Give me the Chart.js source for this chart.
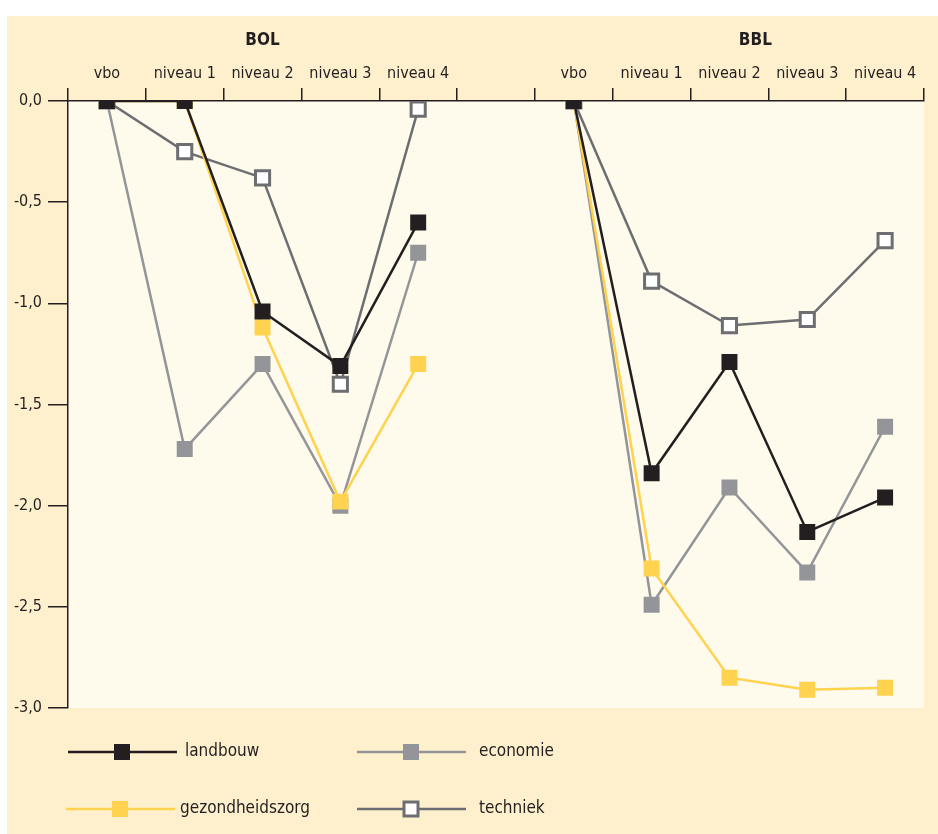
<!DOCTYPE html>
<html>
<head>
<meta charset="utf-8">
<script src="https://cdn.jsdelivr.net/npm/chart.js@4"></script>
<style>
  html, body { margin: 0; padding: 0; background: #fff; }
  #wrap { width: 938px; height: 834px; }
</style>
</head>
<body>
<div id="wrap"><canvas id="chart" width="938" height="834"></canvas></div>
<script>
// categories: BOL (0-4), gap (5), BBL (6-10)
const categories = ['vbo', 'niveau 1', 'niveau 2', 'niveau 3', 'niveau 4', '',
                    'vbo', 'niveau 1', 'niveau 2', 'niveau 3', 'niveau 4'];
const groupTitles = ['BOL', 'BBL'];
const yTicks = [0, -0.5, -1, -1.5, -2, -2.5, -3];

const landbouw        = [0, 0, -1.04, -1.31, -0.60, null, 0, -1.84, -1.29, -2.13, -1.96];
const economie        = [0, -1.72, -1.30, -2.00, -0.75, null, 0, -2.49, -1.91, -2.33, -1.61];
const gezondheidszorg = [0, 0, -1.12, -1.98, -1.30, null, 0, -2.31, -2.85, -2.91, -2.90];
const techniek        = [0, -0.25, -0.38, -1.40, -0.04, null, 0, -0.89, -1.11, -1.08, -0.69];

const FONT = "'Liberation Sans Narrow', 'DejaVu Sans Condensed', sans-serif";
const INK = '#231f20';

const series = [
    { label: 'landbouw', data: landbouw, color: INK, fill: INK, order: 1 },
    { label: 'economie', data: economie, color: '#939598', fill: '#939598', order: 4 },
    { label: 'gezondheidszorg', data: gezondheidszorg, color: '#ffd24f', fill: '#ffd24f', order: 2 },
    { label: 'techniek', data: techniek, color: '#6d6e71', fill: '#ffffff', order: 3 }
];

// background panels, group titles and legend
const decor = {
    id: 'decor',
    beforeDraw(chart) {
        const { ctx, chartArea: a } = chart;
        ctx.save();
        ctx.fillStyle = '#fef0cd';
        ctx.fillRect(7, 16, 931, 818);
        ctx.fillStyle = '#fefaec';
        ctx.fillRect(a.left, a.top, a.right - a.left, a.bottom - a.top);
        ctx.restore();
    },
    afterDraw(chart) {
        const { ctx } = chart;
        const x = chart.scales.x;
        const band = x.getPixelForValue(1) - x.getPixelForValue(0);
        ctx.save();
        ctx.fillStyle = INK;
        ctx.font = 'bold 17px ' + FONT;
        ctx.textAlign = 'center';
        ctx.textBaseline = 'middle';
        ctx.fillText(groupTitles[0], (x.getPixelForValue(0) + x.getPixelForValue(4)) / 2, 41);
        ctx.fillText(groupTitles[1], x.getPixelForValue(8) + band / 3, 41);

        // legend
        const pos = [[68, 752], [357, 752], [66, 809], [357, 809]];
        series.forEach((s, k) => {
            const [lx, ly] = pos[k];
            ctx.strokeStyle = s.color;
            ctx.lineWidth = 2.5;
            ctx.beginPath();
            ctx.moveTo(lx, ly);
            ctx.lineTo(lx + 109, ly);
            ctx.stroke();
            const mx = lx + 54;
            if (s.label === 'techniek') {
                ctx.fillStyle = '#fff';
                ctx.fillRect(mx - 7, ly - 7, 14, 14);
                ctx.lineWidth = 3;
                ctx.strokeRect(mx - 7, ly - 7, 14, 14);
            } else {
                ctx.fillStyle = s.fill;
                ctx.fillRect(mx - 8, ly - 8, 16, 16);
            }
            ctx.fillStyle = INK;
            ctx.font = '17px ' + FONT;
            ctx.textAlign = 'left';
            ctx.fillText(s.label, lx + (k === 2 ? 114 : (k === 1 || k === 3 ? 122 : 117)), ly);
        });
        ctx.restore();
    }
};

const ctx = document.getElementById('chart').getContext('2d');
new Chart(ctx, {
    type: 'line',
    data: {
        labels: categories,
        datasets: series.map(s => ({
            label: s.label,
            data: s.data,
            order: s.order,
            borderColor: s.color,
            borderWidth: 2.5,
            tension: 0,
            spanGaps: false,
            pointStyle: 'rect',
            pointRadius: s.label === 'techniek' ? 10 : 11.3,
            pointBackgroundColor: s.fill,
            pointBorderColor: s.color,
            pointBorderWidth: s.label === 'techniek' ? 3 : 0,
            pointHoverRadius: 11
        }))
    },
    options: {
        responsive: false,
        animation: false,
        layout: { padding: { left: 0, right: 10, top: 0, bottom: 126 } },
        plugins: {
            legend: { display: false },
            tooltip: { enabled: false }
        },
        scales: {
            x: {
                position: 'top',
                offset: true,
                grid: {
                    offset: true,
                    drawOnChartArea: false,
                    tickLength: 13,
                    color: INK,
                    lineWidth: 1.5
                },
                border: { color: INK, width: 1.5 },
                ticks: {
                    color: INK,
                    font: { family: FONT, size: 16 },
                    padding: 5,
                    maxRotation: 0,
                    autoSkip: false
                },
                afterFit(scale) { scale.height = 101; }
            },
            y: {
                min: -3,
                max: 0,
                afterBuildTicks(scale) { scale.ticks = yTicks.map(v => ({ value: v })); },
                grid: {
                    drawOnChartArea: false,
                    tickLength: 20,
                    color: INK,
                    lineWidth: 1.5
                },
                border: { color: INK, width: 1.5 },
                ticks: {
                    color: INK,
                    font: { family: FONT, size: 16 },
                    padding: 6,
                    callback: v => (v === 0 ? '0,0' : v.toFixed(1).replace('.', ','))
                },
                afterFit(scale) { scale.width = 68; }
            }
        }
    },
    plugins: [decor]
});
</script>
</body>
</html>
